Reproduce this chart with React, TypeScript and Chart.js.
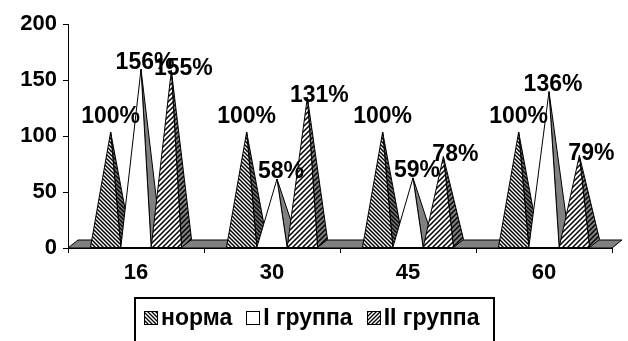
import React, { useEffect, useRef } from "react";
import { Chart, registerables } from "chart.js";

Chart.register(...registerables);

const categories = ["16", "30", "45", "60"];
const seriesNames = ["норма", "I группа", "II группа"];
const normaValues = [100, 100, 100, 100];
const group1Values = [156, 58, 59, 136];
const group2Values = [155, 131, 78, 79];
const yTickValues = [0, 50, 100, 150, 200];

const FONT = '"Liberation Sans", Arial, sans-serif';
const DX = 10;
const DY = 8;
const GREY = "#808080";

function hatchCanvas(bg: string, dir: string, size: number, lw: number) {
  const c = document.createElement("canvas");
  c.width = size;
  c.height = size;
  const g = c.getContext("2d")!;
  g.fillStyle = bg;
  g.fillRect(0, 0, size, size);
  g.strokeStyle = "#000";
  g.lineWidth = lw;
  g.beginPath();
  for (let k = -1; k <= 1; k++) {
    if (dir === "/") {
      g.moveTo(k * size - 1, size + 1);
      g.lineTo(k * size + size + 1, -1);
    } else {
      g.moveTo(k * size - 1, -1);
      g.lineTo(k * size + size + 1, size + 1);
    }
  }
  g.stroke();
  return c;
}

export default function App() {
  const ref = useRef<HTMLCanvasElement | null>(null);

  useEffect(() => {
    const canvas = ref.current!;
    const ctx0 = canvas.getContext("2d")!;
    const styles = [
      {
        front: ctx0.createPattern(hatchCanvas("#fff", "\\", 4, 1.5), "repeat"),
        side: ctx0.createPattern(hatchCanvas(GREY, "\\", 4, 1.5), "repeat"),
        icon: ctx0.createPattern(hatchCanvas("#fff", "\\", 4, 1.3), "repeat"),
        ldx: 0,
        ldy: -15,
      },
      { front: "#fff", side: GREY, icon: "#fff", ldx: 4, ldy: -7 },
      {
        front: ctx0.createPattern(hatchCanvas("#fff", "/", 5, 1.5), "repeat"),
        side: ctx0.createPattern(hatchCanvas(GREY, "/", 5, 1.5), "repeat"),
        icon: ctx0.createPattern(hatchCanvas("#fff", "/", 4, 1.3), "repeat"),
        ldx: 12,
        ldy: -2,
      },
    ];

    const pyramidPlugin = {
      id: "pyramids",
      beforeDatasetsDraw(chart: any) {
        const { ctx, chartArea, scales } = chart;
        const y0 = scales.y.getPixelForValue(0);
        ctx.save();
        ctx.lineWidth = 1;
        ctx.strokeStyle = "#000";
        ctx.lineJoin = "round";
        // floor
        ctx.fillStyle = GREY;
        ctx.beginPath();
        ctx.moveTo(chartArea.left, y0);
        ctx.lineTo(chartArea.right, y0);
        ctx.lineTo(chartArea.right + DX, y0 - DY);
        ctx.lineTo(chartArea.left + DX, y0 - DY);
        ctx.closePath();
        ctx.fill();
        ctx.stroke();
        const n = chart.data.labels.length;
        for (let i = 0; i < n; i++) {
          chart.data.datasets.forEach((ds: any, d: number) => {
            const el = chart.getDatasetMeta(d).data[i];
            const { x, y, base, width } = el.getProps(["x", "y", "base", "width"], true);
            const l = x - width / 2;
            const r = x + width / 2;
            const ax = x + DX / 2;
            const ay = y - DY / 2;
            const st = styles[d];
            ctx.fillStyle = st.side;
            ctx.beginPath();
            ctx.moveTo(r, base);
            ctx.lineTo(r + DX, base - DY);
            ctx.lineTo(ax, ay);
            ctx.closePath();
            ctx.fill();
            ctx.stroke();
            ctx.fillStyle = st.front;
            ctx.beginPath();
            ctx.moveTo(l, base);
            ctx.lineTo(r, base);
            ctx.lineTo(ax, ay);
            ctx.closePath();
            ctx.fill();
            ctx.stroke();
          });
        }
        ctx.restore();
        return false;
      },
      afterDraw(chart: any) {
        const { ctx } = chart;
        ctx.save();
        // data labels
        ctx.font = `bold 23px ${FONT}`;
        ctx.fillStyle = "#000";
        ctx.textAlign = "center";
        ctx.textBaseline = "middle";
        chart.data.datasets.forEach((ds: any, d: number) => {
          const meta = chart.getDatasetMeta(d);
          meta.data.forEach((el: any, i: number) => {
            const { x, y } = el.getProps(["x", "y"], true);
            const st = styles[d];
            ctx.fillText(`${ds.data[i]}%`, x + DX / 2 + st.ldx, y - DY / 2 + st.ldy);
          });
        });
        // legend
        ctx.font = `bold 23px ${FONT}`;
        ctx.textAlign = "left";
        const box = 13;
        const gapIconText = 4;
        const gapItems = 14;
        const pad = 9;
        const widths = seriesNames.map((s) => ctx.measureText(s).width);
        const content =
          widths.reduce((a, w) => a + box + gapIconText + w, 0) + gapItems * (seriesNames.length - 1);
        const bw = Math.round(content + pad * 2 + 5);
        const bx = Math.round(chart.width / 2 - bw / 2);
        const by = 298;
        ctx.strokeStyle = "#000";
        ctx.lineWidth = 2;
        ctx.beginPath();
        ctx.moveTo(bx, chart.height + 5);
        ctx.lineTo(bx, by);
        ctx.lineTo(bx + bw, by);
        ctx.lineTo(bx + bw, chart.height + 5);
        ctx.stroke();
        let cx = bx + pad;
        const cy = 318;
        ctx.lineWidth = 1;
        seriesNames.forEach((s, k) => {
          ctx.fillStyle = styles[k].icon;
          ctx.fillRect(Math.round(cx) + 0.5, cy - 6.5, box, box);
          ctx.strokeRect(Math.round(cx) + 0.5, cy - 6.5, box, box);
          cx += box + gapIconText;
          ctx.fillStyle = "#000";
          ctx.fillText(s, cx, cy + 1);
          cx += widths[k] + gapItems;
        });
        ctx.restore();
      },
    };

    const chart = new Chart(canvas, {
      type: "bar",
      data: {
        labels: categories,
        datasets: [
          { label: seriesNames[0], data: normaValues },
          { label: seriesNames[1], data: group1Values },
          { label: seriesNames[2], data: group2Values },
        ],
      },
      options: {
        animation: false,
        responsive: false,
        devicePixelRatio: 1,
        layout: { padding: { top: 24, right: 16, left: 0, bottom: 0 } },
        datasets: { bar: { categoryPercentage: 0.67, barPercentage: 1 } },
        plugins: { legend: { display: false }, tooltip: { enabled: false } },
        scales: {
          x: {
            type: "category",
            offset: true,
            grid: { offset: true, drawOnChartArea: false, drawTicks: true, tickLength: 5, color: "#000", lineWidth: 1 },
            border: { display: true, color: "#000", width: 1 },
            ticks: { color: "#000", font: { family: FONT, size: 22, weight: "bold" }, padding: 7, maxRotation: 0 },
            afterFit: (s: any) => {
              s.height = 93;
            },
          },
          y: {
            min: 0,
            max: 200,
            grid: { drawOnChartArea: false, drawTicks: true, tickLength: 5, color: "#000", lineWidth: 1 },
            border: { display: true, color: "#000", width: 1 },
            ticks: { color: "#000", font: { family: FONT, size: 22, weight: "bold" }, padding: 6 },
            afterBuildTicks: (s: any) => {
              s.ticks = yTickValues.map((v) => ({ value: v }));
            },
            afterFit: (s: any) => {
              s.width = 68;
            },
          },
        },
      },
      plugins: [pyramidPlugin],
    } as any);
    return () => chart.destroy();
  }, []);

  return (
    <div style={{ position: "fixed", left: 0, top: 0, width: 628, height: 341, background: "#fff" }}>
      <canvas ref={ref} width={628} height={341} style={{ display: "block" }} />
    </div>
  );
}
